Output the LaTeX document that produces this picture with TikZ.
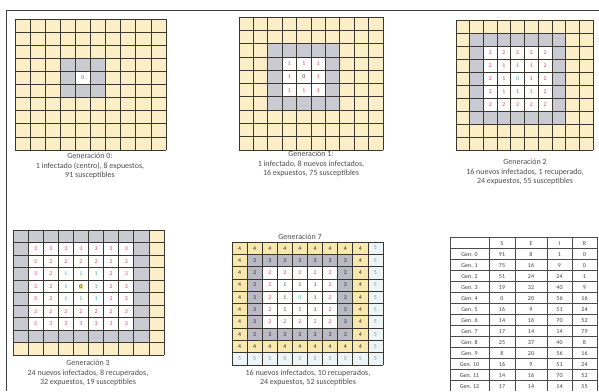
\documentclass[tikz,border=0pt]{standalone}
\usepackage{fontspec}
\setmainfont{Carlito}
\definecolor{sus}{HTML}{FCEFC7}
\definecolor{sussev}{HTML}{F8E8AE}
\definecolor{expo}{HTML}{CACAD3}
\definecolor{exposev}{HTML}{BABAC4}
\definecolor{inf}{HTML}{E0405A}
\definecolor{rec}{HTML}{35B98A}
\definecolor{gridc}{HTML}{3A3630}
\definecolor{pale}{HTML}{EEF5F8}
\definecolor{hil}{HTML}{F6E27A}
\begin{document}
\begin{tikzpicture}[x=1pt,y=-1pt,
  capt/.style={font=\fontsize{8}{9.3}\selectfont, align=center, text=black!70, inner sep=0pt},
  num/.style={font=\fontsize{5.8}{5.8}\selectfont, inner sep=0pt},
  gl/.style={draw=gridc, line width=0.7pt},
  tl/.style={draw=black!70, line width=0.5pt},
  tnum/.style={font=\fontsize{6}{6}\selectfont, inner sep=0pt, text=black!75}]
\useasboundingbox (0,0) rectangle (599,391);
\fill[white] (0,0) rectangle (599,391);
% frame
\draw[line width=0.9pt, black!75] (6,391) -- (6,10) -- (599,10);

% ---------- Generation 0
\begin{scope}[shift={(15,19)}, x=15.1pt, y=-13.1pt]
  \fill[sus] (0,0) rectangle (10,10);
  \fill[expo] (3,3) rectangle (6,6);
  \fill[white] (4,4) rectangle (5,5);
  \foreach \k in {0,...,10} {\draw[gl] (\k,0) -- (\k,10); \draw[gl] (0,\k) -- (10,\k);}
  \node[num, text=inf] (g0c) at (4.5,4.5) {0};
\end{scope}
\node[capt] (cap0) at (90,166) {Generación 0:\\1 infectado (centro), 8 expuestos,\\91 susceptibles};

% ---------- Generation 1
\begin{scope}[shift={(239,17)}, x=14.4pt, y=-13.3pt]
  \fill[sus] (0,0) rectangle (10,10);
  \fill[expo] (2,2) rectangle (7,7);
  \fill[white] (3,3) rectangle (6,6);
  \foreach \k in {0,...,10} {\draw[gl] (\k,0) -- (\k,10); \draw[gl] (0,\k) -- (10,\k);}
  \foreach \i in {3,4,5} \foreach \j in {3,4,5} {
    \pgfmathtruncatemacro\d{max(abs(\i-4),abs(\j-4))}
    \ifnum\d=0 \node[num, text=black!80] (g1-\i-\j) at (\i+0.5,\j+0.5) {0};
    \else \node[num, text=inf] (g1-\i-\j) at (\i+0.5,\j+0.5) {1}; \fi}
\end{scope}
\node[capt] (cap1) at (311,164) {Generación 1:\\1 infectado, 8 nuevos infectados,\\16 expuestos, 75 susceptibles};

% ---------- Generation 2
\begin{scope}[shift={(456,20)}, x=13.7pt, y=-13.0pt]
  \fill[sus] (0,0) rectangle (10,10);
  \fill[expo] (1,1) rectangle (8,8);
  \fill[white] (2,2) rectangle (7,7);
  \foreach \k in {0,...,10} {\draw[gl] (\k,0) -- (\k,10); \draw[gl] (0,\k) -- (10,\k);}
  \foreach \i in {2,...,6} \foreach \j in {2,...,6} {
    \pgfmathtruncatemacro\d{max(abs(\i-4),abs(\j-4))}
    \ifnum\d=0 \node[num, text=rec] (g2-\i-\j) at (\i+0.5,\j+0.5) {0};
    \else \node[num, text=inf] (g2-\i-\j) at (\i+0.5,\j+0.5) {\d}; \fi}
\end{scope}
\node[capt] (cap2) at (525,172) {Generación 2\\16 nuevos infectados, 1 recuperado,\\24 expuestos, 55 susceptibles};

% ---------- Generation 3
\begin{scope}[shift={(13,230)}, x=15.1pt, y=-12.5pt]
  \fill[sus] (0,0) rectangle (10,10);
  \fill[expo] (0,0) rectangle (9,9);
  \fill[white] (1,1) rectangle (8,8);
  \foreach \k in {0,...,10} {\draw[gl] (\k,0) -- (\k,10); \draw[gl] (0,\k) -- (10,\k);}
  \foreach \i in {1,...,7} \foreach \j in {1,...,7} {
    \pgfmathtruncatemacro\d{max(abs(\i-4),abs(\j-4))}
    \ifcase\d \node[num, text=black!80, fill=hil, inner sep=0.8pt] (g3-\i-\j) at (\i+0.5,\j+0.5) {0};
    \or \node[num, text=rec] (g3-\i-\j) at (\i+0.5,\j+0.5) {1};
    \else \node[num, text=inf] (g3-\i-\j) at (\i+0.5,\j+0.5) {\d}; \fi}
\end{scope}
\node[capt] (cap3) at (88,373) {Generación 3\\24 nuevos infectados, 8 recuperados,\\32 expuestos, 19 susceptibles};

% ---------- Generation 7
\node[capt] (tit7) at (300,237) {Generación 7};
\begin{scope}[shift={(232,242)}, x=15.1pt, y=-12.3pt]
  \fill[pale] (0,0) rectangle (10,10);
  \fill[sussev] (0,0) rectangle (9,9);
  \fill[exposev] (1,1) rectangle (8,8);
  \fill[white] (2,2) rectangle (7,7);
  \foreach \k in {0,...,10} {\draw[gl] (\k,0) -- (\k,10); \draw[gl] (0,\k) -- (10,\k);}
  \foreach \i in {0,...,9} \foreach \j in {0,...,9} {
    \pgfmathtruncatemacro\d{max(abs(\i-4),abs(\j-4))}
    \ifcase\d \node[num, text=rec] (g7-\i-\j) at (\i+0.5,\j+0.5) {0};
    \or \node[num, text=black!70] (g7-\i-\j) at (\i+0.5,\j+0.5) {1};
    \or \node[num, text=inf] (g7-\i-\j) at (\i+0.5,\j+0.5) {2};
    \or \node[num, text=black!85] (g7-\i-\j) at (\i+0.5,\j+0.5) {3};
    \or \node[num, text=black!85] (g7-\i-\j) at (\i+0.5,\j+0.5) {4};
    \else \node[num, text=black!45] (g7-\i-\j) at (\i+0.5,\j+0.5) {5}; \fi}
\end{scope}
\node[capt] (cap7) at (308,378) {16 nuevos infectados, 10 recuperados,\\24 expuestos, 52 susceptibles};

% ---------- Table
\foreach \xx in {450,489,515,547,572,597} {\draw[tl] (\xx,237) -- (\xx,391);}
\foreach \r in {0,...,13} {\draw[tl] (450,237+11*\r) -- (597,237+11*\r);}
\foreach \h [count=\c] in {S,E,I,R} {
  \pgfmathsetmacro\cx{{0,502,531,559.5,584.5}[\c]}
  \node[tnum] (th-\c) at (\cx,243.5) {\h};}
\foreach \lab/\a/\b/\cc/\dd [count=\r] in {
  Gen. 0/91/8/1/0, Gen. 1/75/16/9/0, Gen. 2/51/24/24/1, Gen. 3/19/32/40/9,
  Gen. 4/0/20/56/16, Gen. 5/16/9/51/24, Gen. 6/14/16/70/52, Gen. 7/17/14/14/79,
  Gen. 8/25/37/40/8, Gen. 9/8/20/56/16, Gen. 10/16/9/51/24, Gen. 11/14/16/70/52,
  Gen. 12/17/14/14/55} {
  \pgfmathsetmacro\cy{243.5+11*\r}
  \node[tnum] (tr-\r-0) at (469.5,\cy) {\lab};
  \node[tnum] (tr-\r-1) at (502,\cy) {\a};
  \node[tnum] (tr-\r-2) at (531,\cy) {\b};
  \node[tnum] (tr-\r-3) at (559.5,\cy) {\cc};
  \node[tnum] (tr-\r-4) at (584.5,\cy) {\dd};
}
\end{tikzpicture}
\end{document}
